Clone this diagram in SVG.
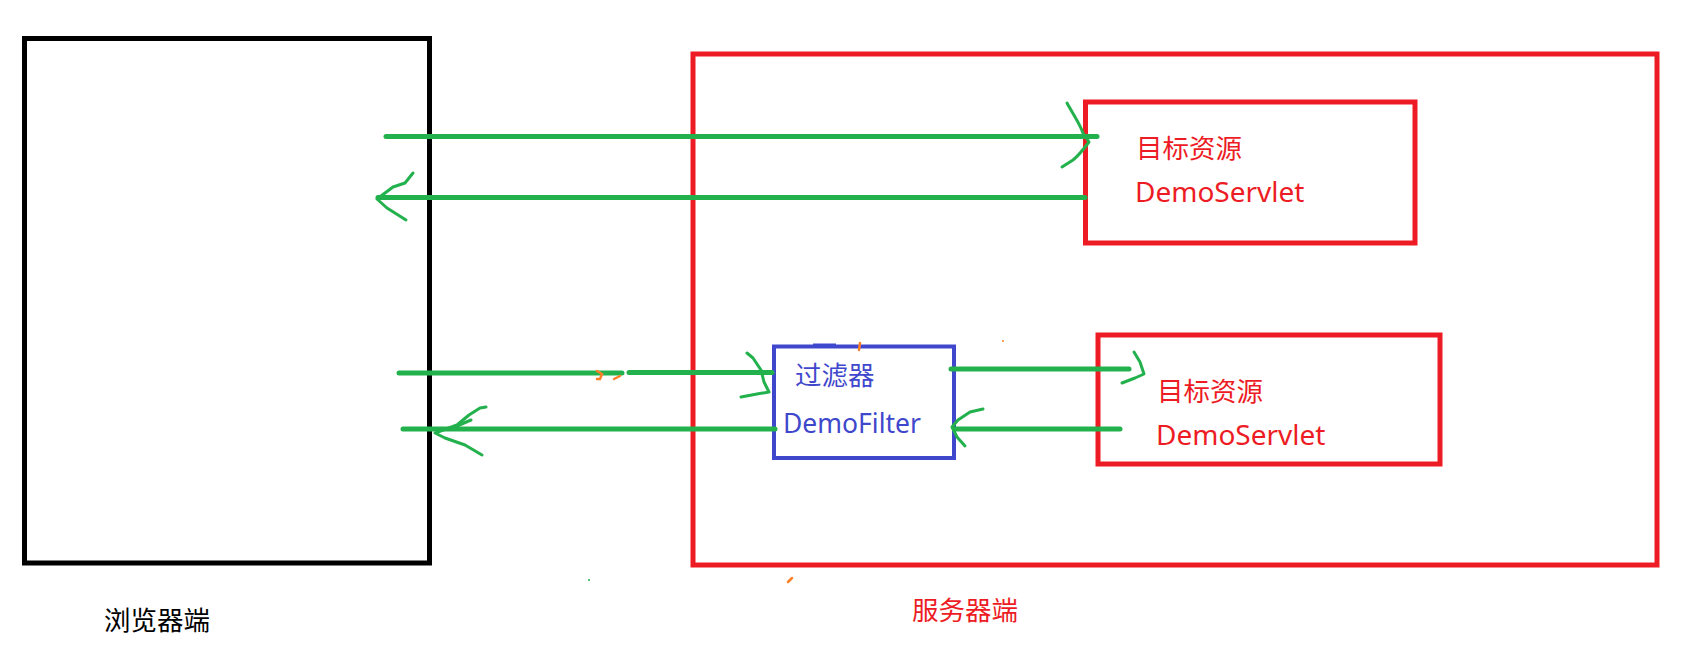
<svg xmlns="http://www.w3.org/2000/svg" width="1682" height="660" viewBox="0 0 1682 660">
<style>
.box{fill:none;stroke-linejoin:miter}
.blk{stroke:#000;stroke-width:5}
.red{stroke:#ED1C24;stroke-width:5}
.blu{stroke:#3F48CC;stroke-width:4}
.ln{stroke:#22B14C;stroke-width:5;stroke-linecap:round;fill:none}
.hd{stroke:#22B14C;stroke-width:3;stroke-linecap:round;stroke-linejoin:round;fill:none}
.or{stroke:#FF7F27;stroke-width:2.5;stroke-linecap:round;fill:none}
.t{font-family:"Noto Sans","Noto Sans CJK SC",sans-serif;font-size:26.5px}
.lat{font-size:28px}
.tr{fill:#ED1C24}
.tb{fill:#3F48CC}
.tk{fill:#000}
</style>
<rect x="0" y="0" width="1682" height="660" fill="#fff"/>
<g id="browser">
<rect class="box blk" x="24.5" y="38.5" width="405" height="524.5"/>
<text class="t tk" x="104" y="630" font-size="28">浏览器端</text>
</g>
<g id="server">
<rect class="box red" x="693" y="54" width="964" height="511"/>
<text class="t tr" x="912" y="620" font-size="28">服务器端</text>
</g>
<g id="servlet1">
<rect class="box red" x="1085.5" y="102" width="329.5" height="141"/>
<text class="t tr" x="1136" y="158">目标资源</text>
<text class="t tr lat" x="1135" y="202">DemoServlet</text>
</g>
<g id="filter">
<rect class="box blu" x="774" y="346.5" width="180" height="111.5"/>
<line x1="813" y1="344.5" x2="836" y2="344.5" stroke="#3F48CC" stroke-width="2"/>
<text class="t tb" x="795" y="385" font-size="28">过滤器</text>
<text class="t tb" x="783" y="433" font-size="27">DemoFilter</text>
</g>
<g id="servlet2">
<rect class="box red" x="1098" y="335" width="342" height="129"/>
<text class="t tr" x="1157" y="401">目标资源</text>
<text class="t tr lat" x="1156" y="445">DemoServlet</text>
</g>
<g id="connectors">
<line class="ln" x1="386" y1="136.5" x2="1097" y2="136.5"/>
<path class="hd" d="M1067,103 C1073,114 1080,124 1083,133 L1089,142 C1083,150 1078,156 1073,160 L1062,167"/>
<line class="ln" x1="1085" y1="197.5" x2="378" y2="197.5"/>
<path class="hd" d="M413,173 L405,183 L393,187 L377,199 L387,208 L406,220"/>
<line class="ln" x1="399" y1="373" x2="622" y2="373"/>
<line class="ln" x1="629" y1="372.5" x2="772" y2="372.5"/>
<path class="hd" d="M747,353 L753,358 L761,370 L764,382 L769,392 L757,394 L741,397"/>
<line class="ln" x1="775" y1="429" x2="403" y2="429"/>
<path class="hd" d="M486,407 L480,408 L469,415 L457,425 L435,433 L445,438 L465,445 L482,455"/>
<path class="hd" d="M471,420 L457,426"/>
<line class="ln" x1="951" y1="369" x2="1129" y2="369"/>
<path class="hd" d="M1134,352 L1140,362 L1144,374 L1135,378 L1122,383"/>
<line class="ln" x1="1120" y1="429" x2="955" y2="429"/>
<path class="hd" d="M983,409 L970,412 L958,420 L952,427 L957,437 L965,446"/>
</g>
<g id="marks">
<path class="or" d="M597,371 L602,374 L600,379 L597,379"/>
<path class="or" d="M614,379 L620,376"/>
<path class="or" d="M860,343 L859,350"/>
<circle cx="1003" cy="341" r="1" fill="#FF7F27"/>
<path class="or" d="M792,578 L788,582"/>
<circle cx="589" cy="580" r="1" fill="#22B14C"/>
</g>
</svg>
